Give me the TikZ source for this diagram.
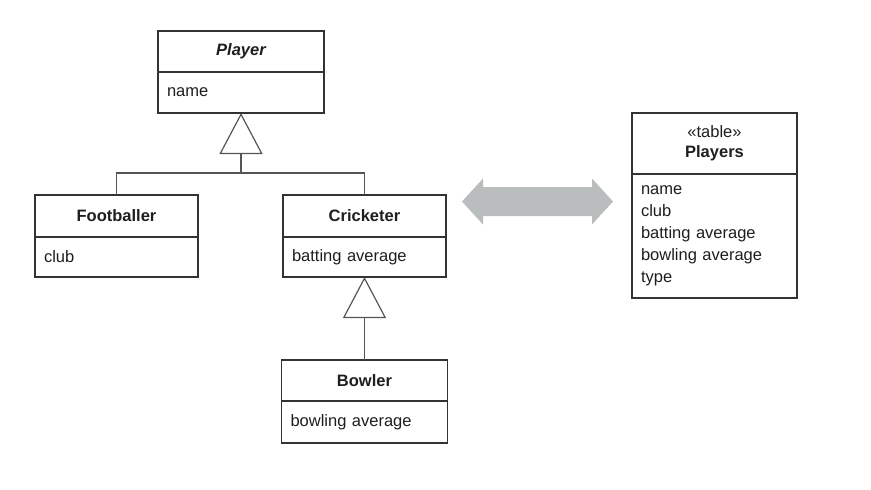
\documentclass[tikz,border=0pt]{standalone}
\usepackage{fontspec}
\setmainfont{Liberation Sans}
\usepackage{xcolor}
\usetikzlibrary{positioning}
\usetikzlibrary{arrows.meta}

\definecolor{boxline}{HTML}{333333}
\definecolor{linkline}{HTML}{555555}
\definecolor{textcol}{HTML}{1E1E1E}
\definecolor{arrowgrey}{HTML}{B9BDBE}

\tikzset{
  umltitle/.style={draw=boxline, line width=1.2pt, outer sep=0pt, inner sep=0pt,
    minimum height=41pt, align=center, text=textcol,
    font=\fontsize{16.5}{20}\selectfont\bfseries},
  umlattr/.style={draw=boxline, line width=1.2pt, outer sep=0pt, inner xsep=9pt,
    inner ysep=0pt, minimum height=41pt, align=left, text=textcol,
    font=\fontsize{16.5}{22}\selectfont},
  genline/.style={draw=linkline, line width=1.2pt},
  gentip/.style={-{Triangle[open, width=43pt, length=41pt, fill=white]}}
}

\begin{document}
\begin{tikzpicture}[x=1pt, y=-1pt]
\useasboundingbox (0,0) rectangle (871,490);

\coordinate(P) at (241, 51.5);
\coordinate(F) at (116.5, 216);
\coordinate(C) at (364.5, 216);
\coordinate(B) at (364.5, 380.5);
\coordinate(T) at (714.5, 143.5);

% class hierarchy
\node[umltitle, minimum width=166pt] (playertitle) at (P) {\itshape Player};
\node[umlattr, text width=148pt, below=0pt of playertitle] (playerattr) {name};

\node[umltitle, minimum width=163pt, minimum height=42pt] (footballertitle) at (F) {Footballer};
\node[umlattr, text width=145pt, minimum height=40pt, below=0pt of footballertitle] (footballerattr) {club};

\node[umltitle, minimum width=163pt, minimum height=42pt] (crickettitle) at (C) {Cricketer};
\node[umlattr, text width=145pt, minimum height=40pt, below=0pt of crickettitle] (cricketattr) {batting average};

\node[umltitle, minimum width=166pt] (bowlertitle) at (B) {Bowler};
\node[umlattr, text width=148pt, minimum height=42pt, below=0pt of bowlertitle] (bowlerattr) {bowling average};

\coordinate(join) at (241, 173);
\draw[genline] (footballertitle.north) |- (join) -| (crickettitle.north);
\draw[genline, gentip] (join) -- (playerattr.south);
\draw[genline, gentip] (bowlertitle.north) -- (cricketattr.south);

% table
\node[umltitle, minimum width=165pt, minimum height=61pt] (playerstitle) at (T)
  {{\mdseries «table»}\\Players};
\node[umlattr, text width=147pt, minimum height=124pt, below=0pt of playerstitle] (playersattr)
  {name\\club\\batting average\\bowling average\\type};

% mapping arrow
\fill[arrowgrey] (462,201.5) -- (483,178.5) -- (483,187) -- (592,187) -- (592,178.5)
  -- (613,201.5) -- (592,224.5) -- (592,216) -- (483,216) -- (483,224.5) -- cycle;

\end{tikzpicture}
\end{document}
